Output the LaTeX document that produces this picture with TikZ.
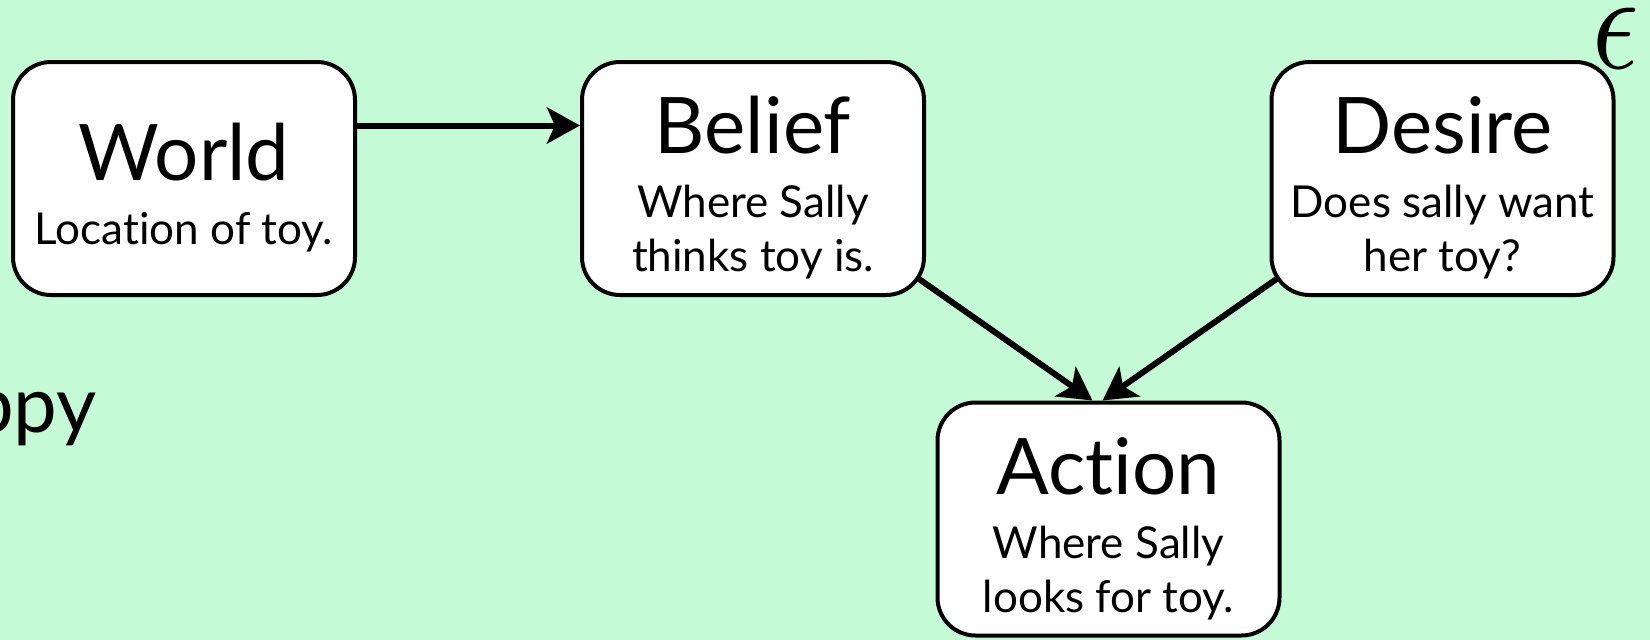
\documentclass[tikz,border=0pt]{standalone}
\usepackage{fontspec}
\setmainfont{Lato}[Ligatures=NoCommon]
\usepackage{tikz}
\usetikzlibrary{arrows.meta,calc}

\definecolor{mint}{RGB}{196,250,214}

\tikzset{
	mind/.style={draw, line width=4pt, fill=white, rounded corners=38pt,
		minimum width=342pt, minimum height=233pt, inner sep=0pt,
		align=center, text depth=-7pt, font=\fontsize{44}{54}\selectfont},
	arr/.style={-{Stealth[length=33pt,width=36pt,inset=8pt]}, line width=6pt}
}
\newcommand{\mtitle}[1]{{\fontsize{78}{80}\selectfont\rule{0pt}{68pt}#1}\\[10pt]}

\begin{document}
\begin{tikzpicture}[x=1pt, y=1pt, node distance=569pt]
	\useasboundingbox (0,0) rectangle (1650,-640);
	\fill[mint] (0,0) rectangle (1650,-640);

	\node[mind] (W) at (184,-178.5) {\mtitle{World}Location of toy.};
	\node[mind] (B) [right of=W] {\mtitle{Belief}Where Sally\\thinks toy is.};
	\node[mind] (D) [right of=B] [node distance=689.5pt] {\mtitle{Desire}Does sally want\\her toy?};
	\node[mind] (A) [below of=B] [node distance=340.5pt, xshift=355.5pt] {\mtitle{Action}Where Sally\\looks for toy.};

	% cut-off text on the left and the symbol in the corner
	\node[anchor=base east, inner sep=0pt, font=\fontsize{78}{78}\selectfont] (P) at (97,-432) {ppy};
	\node[inner sep=0pt] (E) at (1616,-38) {\scalebox{11.5}[14]{$\epsilon$}};

	\draw[arr] ([yshift=53pt]W.east) to ([yshift=53pt]B.west);
	\draw[arr] ($(B.south east)+(-7,18)$) to ($(A.north)+(-16,0)$);
	\draw[arr] ($(D.south west)+(7,18)$) to ($(A.north)+(-6,0)$);
\end{tikzpicture}
\end{document}
